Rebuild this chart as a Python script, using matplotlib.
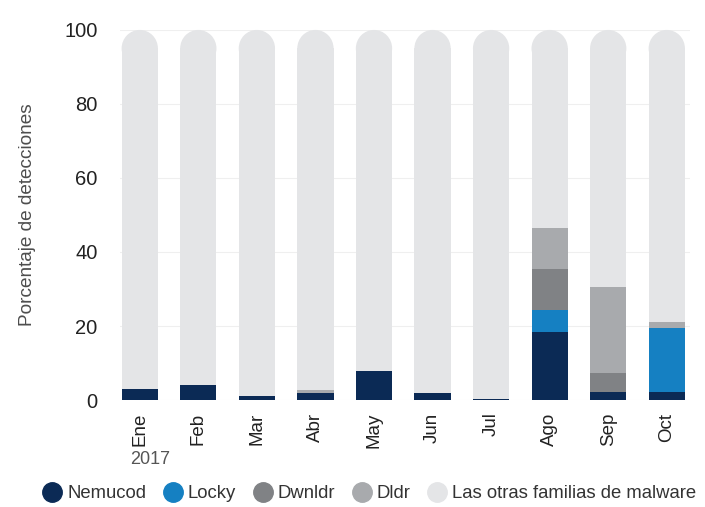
import matplotlib
matplotlib.use("Agg")
import matplotlib.pyplot as plt
from matplotlib.patches import Ellipse
from matplotlib.lines import Line2D
import numpy as np

plt.rcParams['font.family'] = ['Liberation Sans', 'DejaVu Sans']

months = ["Ene", "Feb", "Mar", "Abr", "May", "Jun", "Jul", "Ago", "Sep", "Oct"]
nemucod = [3.0, 4.1, 1.1, 1.9, 7.9, 2.0, 0.3, 18.4, 2.2, 2.2]
locky = [0, 0, 0, 0, 0, 0, 0, 5.9, 0, 17.3]
dwnldr = [0, 0, 0, 0, 0, 0, 0, 11.1, 5.1, 0]
dldr = [0, 0, 0, 0.8, 0, 0, 0, 11.1, 23.2, 1.6]
total = 100

series_names = ["Nemucod", "Locky", "Dwnldr", "Dldr", "Las otras familias de malware"]
colors = ["#0b2a55", "#1580c2", "#808285", "#a8aaad", "#e4e5e7"]

fig = plt.figure(figsize=(7.05, 5.07), dpi=100)
ax = fig.add_axes([0.170, 0.211, 0.809, 0.730])

x = np.arange(len(months))
width = 0.62
cap = 5.0  # height of the rounded top in data units

for yv in range(0, 101, 20):
    ax.axhline(yv, color="#efefef", lw=0.8, zorder=0)

bottom = np.zeros(len(months))
for vals, col in zip([nemucod, locky, dwnldr, dldr], colors[:4]):
    vals = np.array(vals, dtype=float)
    ax.bar(x, vals, width, bottom=bottom, color=col, zorder=2, linewidth=0)
    bottom += vals

others = total - cap - bottom
ax.bar(x, others, width, bottom=bottom, color=colors[4], zorder=2, linewidth=0)
for xi in x:
    ax.add_patch(Ellipse((xi, total - cap), width, 2 * cap, color=colors[4],
                         zorder=2, linewidth=0, clip_on=False))

ax.set_xlim(-0.34, 9.4)
ax.set_ylim(0, 100)
ax.set_yticks(range(0, 101, 20))
ax.set_xticks(x)
ax.set_xticklabels(months, rotation=90, fontsize=13.5, color="#222222")
ax.tick_params(axis="y", labelsize=14.5, labelcolor="#222222", length=0, pad=16)
ax.tick_params(axis="x", length=0, pad=9)
for s in ax.spines.values():
    s.set_visible(False)

ax.set_ylabel("Porcentaje de detecciones", fontsize=13.7, color="#4d4d4d", labelpad=20)
fig.text(0.213, 0.094, "2017", fontsize=13, color="#555555", ha="center", va="center")

handles = [Line2D([], [], marker="o", linestyle="none", markersize=14,
                  markerfacecolor=c, markeredgecolor=c) for c in colors]
fig.legend(handles, series_names, loc="center", bbox_to_anchor=(0.525, 0.026),
           ncol=5, frameon=False, fontsize=13.3, handlelength=0.9,
           handletextpad=0.35, columnspacing=1.0, labelcolor="#333333",
           borderaxespad=0, borderpad=0)

fig.savefig("out.png", dpi=100)
